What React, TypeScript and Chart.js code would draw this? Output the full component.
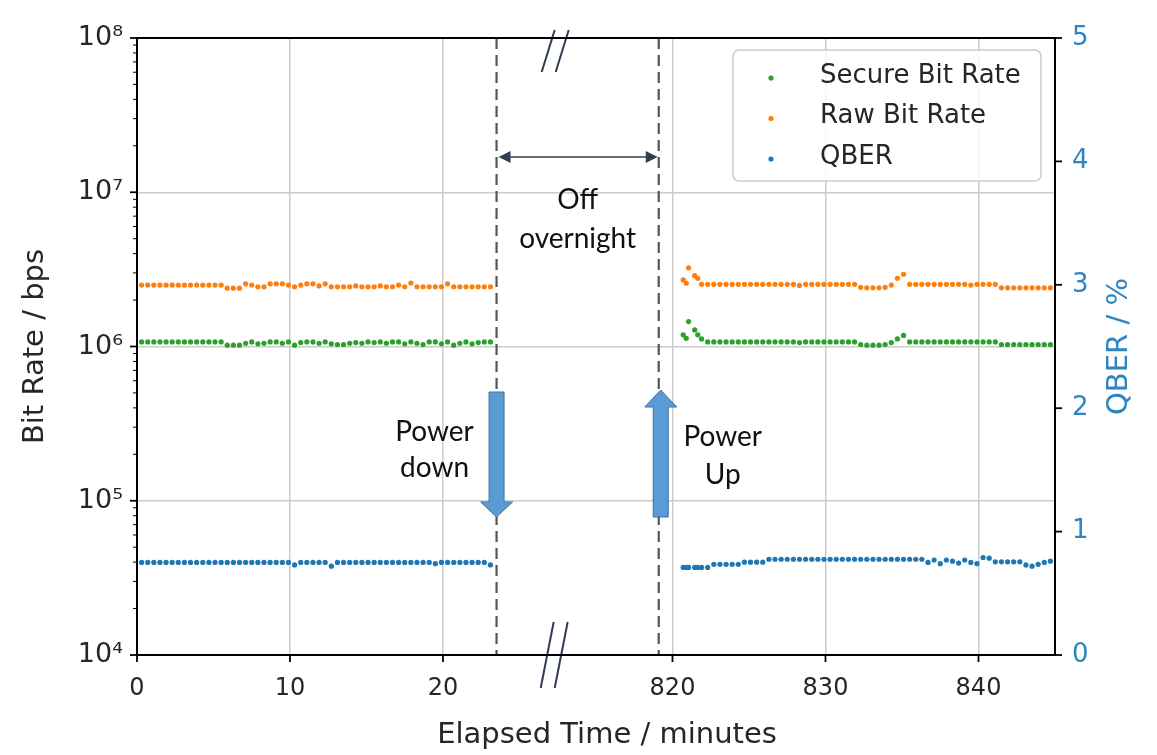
import React, { useEffect, useRef } from "react";
import { Chart, registerables } from "chart.js";

Chart.register(...registerables);

// ---- axis definition (broken time axis) ----
const BREAK_SHIFT = 785; // minutes cut out of the axis by the break
const AXIS_MIN = 0;
const AXIS_MAX = 60;
const X_TICK_POS = [0, 10, 20, 35, 45, 55];
const X_TICK_LABELS = ["0", "10", "20", "820", "830", "840"];
const Y_TICKS = [1e4, 1e5, 1e6, 1e7, 1e8];
const Y_TICK_LABELS = ["10⁴", "10⁵", "10⁶", "10⁷", "10⁸"];
const QBER_TICKS = [0, 1, 2, 3, 4, 5];
const QBER_TICK_LABELS = ["0", "1", "2", "3", "4", "5"];
const POWER_DOWN_T = 23.5;
const POWER_UP_T = 819.1;
const BREAK_MARK_POS = 27.3;

// ---- data: first session (minutes) ----
const TIME_A = [
  0.3, 0.7, 1.1, 1.5, 1.9, 2.3, 2.7, 3.1, 3.5, 3.9, 4.3, 4.7, 5.1, 5.5, 5.9, 6.3, 6.7, 7.1, 7.5, 7.9,
  8.3, 8.7, 9.1, 9.5, 9.9, 10.3, 10.7, 11.1, 11.5, 11.9, 12.3, 12.7, 13.1, 13.5, 13.9, 14.3, 14.7, 15.1, 15.5, 15.9,
  16.3, 16.7, 17.1, 17.5, 17.9, 18.3, 18.7, 19.1, 19.5, 19.9, 20.3, 20.7, 21.1, 21.5, 21.9, 22.3, 22.7, 23.1,
];
const RAW_A = [
  2.5e6, 2.5e6, 2.5e6, 2.5e6, 2.5e6, 2.5e6, 2.5e6, 2.5e6, 2.5e6, 2.5e6, 2.5e6, 2.5e6, 2.5e6, 2.5e6, 2.39e6, 2.39e6, 2.39e6, 2.55e6, 2.5e6, 2.44e6,
  2.44e6, 2.55e6, 2.55e6, 2.55e6, 2.5e6, 2.44e6, 2.5e6, 2.55e6, 2.55e6, 2.47e6, 2.55e6, 2.44e6, 2.44e6, 2.44e6, 2.44e6, 2.47e6, 2.44e6, 2.44e6, 2.44e6, 2.47e6,
  2.44e6, 2.44e6, 2.5e6, 2.44e6, 2.58e6, 2.44e6, 2.44e6, 2.44e6, 2.44e6, 2.44e6, 2.55e6, 2.44e6, 2.44e6, 2.44e6, 2.44e6, 2.44e6, 2.44e6, 2.44e6,
];
const SECURE_A = [
  1.07e6, 1.07e6, 1.07e6, 1.07e6, 1.07e6, 1.07e6, 1.07e6, 1.07e6, 1.07e6, 1.07e6, 1.07e6, 1.07e6, 1.07e6, 1.07e6, 1.02e6, 1.02e6, 1.02e6, 1.05e6, 1.07e6, 1.04e6,
  1.05e6, 1.07e6, 1.07e6, 1.05e6, 1.07e6, 1.02e6, 1.06e6, 1.07e6, 1.07e6, 1.05e6, 1.07e6, 1.04e6, 1.03e6, 1.03e6, 1.05e6, 1.06e6, 1.05e6, 1.07e6, 1.06e6, 1.07e6,
  1.05e6, 1.07e6, 1.07e6, 1.04e6, 1.07e6, 1.05e6, 1.03e6, 1.07e6, 1.07e6, 1.04e6, 1.07e6, 1.02e6, 1.05e6, 1.07e6, 1.04e6, 1.06e6, 1.07e6, 1.07e6,
];
const QBER_A = [
  0.75, 0.75, 0.75, 0.75, 0.75, 0.75, 0.75, 0.75, 0.75, 0.75, 0.75, 0.75, 0.75, 0.75, 0.75, 0.75, 0.75, 0.75, 0.75, 0.75,
  0.75, 0.75, 0.75, 0.75, 0.75, 0.73, 0.75, 0.75, 0.75, 0.75, 0.75, 0.72, 0.75, 0.75, 0.75, 0.75, 0.75, 0.75, 0.75, 0.75,
  0.75, 0.75, 0.75, 0.75, 0.75, 0.75, 0.75, 0.75, 0.74, 0.75, 0.75, 0.75, 0.75, 0.75, 0.75, 0.75, 0.75, 0.73,
];

// ---- data: second session after overnight power-off (minutes) ----
const TIME_B = [
  820.7, 820.9, 821.05, 821.45, 821.65, 821.9,
  822.3, 822.7, 823.1, 823.5, 823.9, 824.3, 824.7, 825.1, 825.5, 825.9, 826.3, 826.7, 827.1, 827.5, 827.9, 828.3, 828.7, 829.1, 829.5, 829.9,
  830.3, 830.7, 831.1, 831.5, 831.9, 832.3, 832.7, 833.1, 833.5, 833.9, 834.3, 834.7, 835.1, 835.5, 835.9, 836.3, 836.7, 837.1, 837.5, 837.9,
  838.3, 838.7, 839.1, 839.5, 839.9, 840.3, 840.7, 841.1, 841.5, 841.9, 842.3, 842.7, 843.1, 843.5, 843.9, 844.3, 844.7,
];
const RAW_B = [
  2.7e6, 2.57e6, 3.24e6, 2.88e6, 2.77e6, 2.53e6,
  2.53e6, 2.53e6, 2.53e6, 2.53e6, 2.53e6, 2.53e6, 2.53e6, 2.53e6, 2.53e6, 2.53e6, 2.53e6, 2.53e6, 2.53e6, 2.53e6, 2.53e6, 2.49e6, 2.53e6, 2.53e6, 2.53e6, 2.53e6,
  2.53e6, 2.53e6, 2.53e6, 2.53e6, 2.53e6, 2.42e6, 2.4e6, 2.4e6, 2.4e6, 2.42e6, 2.5e6, 2.77e6, 2.94e6, 2.53e6, 2.53e6, 2.53e6, 2.53e6, 2.53e6, 2.53e6, 2.53e6,
  2.53e6, 2.53e6, 2.53e6, 2.5e6, 2.53e6, 2.53e6, 2.53e6, 2.53e6, 2.4e6, 2.4e6, 2.4e6, 2.4e6, 2.4e6, 2.4e6, 2.4e6, 2.4e6, 2.4e6,
];
const SECURE_B = [
  1.19e6, 1.13e6, 1.45e6, 1.28e6, 1.19e6, 1.12e6,
  1.07e6, 1.07e6, 1.07e6, 1.07e6, 1.07e6, 1.07e6, 1.07e6, 1.07e6, 1.07e6, 1.07e6, 1.07e6, 1.07e6, 1.07e6, 1.07e6, 1.07e6, 1.06e6, 1.07e6, 1.07e6, 1.07e6, 1.07e6,
  1.07e6, 1.07e6, 1.07e6, 1.07e6, 1.07e6, 1.03e6, 1.02e6, 1.02e6, 1.02e6, 1.03e6, 1.06e6, 1.12e6, 1.18e6, 1.07e6, 1.07e6, 1.07e6, 1.07e6, 1.07e6, 1.07e6, 1.07e6,
  1.07e6, 1.07e6, 1.07e6, 1.07e6, 1.07e6, 1.07e6, 1.07e6, 1.07e6, 1.03e6, 1.03e6, 1.03e6, 1.03e6, 1.03e6, 1.03e6, 1.03e6, 1.03e6, 1.03e6,
];
const QBER_B = [
  0.71, 0.71, 0.71, 0.71, 0.71, 0.71,
  0.71, 0.735, 0.735, 0.735, 0.735, 0.735, 0.752, 0.752, 0.752, 0.752, 0.776, 0.776, 0.776, 0.776, 0.776, 0.776, 0.776, 0.776, 0.776, 0.776,
  0.776, 0.776, 0.776, 0.776, 0.776, 0.776, 0.776, 0.776, 0.776, 0.776, 0.776, 0.776, 0.776, 0.776, 0.776, 0.776, 0.75, 0.77, 0.74, 0.77,
  0.76, 0.745, 0.77, 0.75, 0.74, 0.79, 0.785, 0.755, 0.755, 0.755, 0.755, 0.755, 0.73, 0.72, 0.735, 0.75, 0.76,
];

const SERIES_NAMES = ["Secure Bit Rate", "Raw Bit Rate", "QBER"];
const SERIES_COLORS = ["#2ca02c", "#ff7f0e", "#1f77b4"];
const QBER_AXIS_COLOR = "#2e86c1";
const TEXT_COLOR = "#262626";

const toAxis = (t: number) => (t > 400 ? t - BREAK_SHIFT : t);
const toPoints = (times: number[], vals: number[]) => times.map((t, i) => ({ x: toAxis(t), y: vals[i] }));

function line(ctx: CanvasRenderingContext2D, x1: number, y1: number, x2: number, y2: number, w: number, c: string) {
  ctx.beginPath();
  ctx.strokeStyle = c;
  ctx.lineWidth = w;
  ctx.moveTo(x1, y1);
  ctx.lineTo(x2, y2);
  ctx.stroke();
}

function blockArrow(ctx: CanvasRenderingContext2D, cx: number, shaftEnd: number, headBase: number, tip: number, shaftHalf: number, headHalf: number) {
  ctx.beginPath();
  ctx.moveTo(cx - shaftHalf, shaftEnd);
  ctx.lineTo(cx - shaftHalf, headBase);
  ctx.lineTo(cx - headHalf, headBase);
  ctx.lineTo(cx, tip);
  ctx.lineTo(cx + headHalf, headBase);
  ctx.lineTo(cx + shaftHalf, headBase);
  ctx.lineTo(cx + shaftHalf, shaftEnd);
  ctx.closePath();
  ctx.fillStyle = "#5b9bd5";
  ctx.fill();
  ctx.strokeStyle = "#41719c";
  ctx.lineWidth = 1;
  ctx.stroke();
}

const decorPlugin = {
  id: "decor",
  afterDraw(chart: any) {
    const ctx: CanvasRenderingContext2D = chart.ctx;
    const { left, right, top, bottom } = chart.chartArea;
    const xs = chart.scales.x;
    const ys = chart.scales.y;
    const yq = chart.scales.y1;
    ctx.save();

    // dashed power-down / power-up lines
    const xDown = xs.getPixelForValue(toAxis(POWER_DOWN_T));
    const xUp = xs.getPixelForValue(toAxis(POWER_UP_T));
    ctx.setLineDash([11, 6]);
    line(ctx, xDown, top, xDown, bottom, 2.2, "#555555");
    line(ctx, xUp, top, xUp, bottom, 2.2, "#555555");
    ctx.setLineDash([]);

    // double-headed arrow
    const ay = top + 119;
    const navy = "#333f50";
    line(ctx, xDown + 8, ay, xUp - 8, ay, 1.5, navy);
    ctx.fillStyle = navy;
    ctx.beginPath();
    ctx.moveTo(xDown + 2, ay);
    ctx.lineTo(xDown + 14, ay - 6);
    ctx.lineTo(xDown + 14, ay + 6);
    ctx.closePath();
    ctx.fill();
    ctx.beginPath();
    ctx.moveTo(xUp - 1, ay);
    ctx.lineTo(xUp - 13, ay - 6);
    ctx.lineTo(xUp - 13, ay + 6);
    ctx.closePath();
    ctx.fill();

    // annotation text
    ctx.fillStyle = "#111111";
    ctx.font = "28px Lato, 'Open Sans', sans-serif";
    ctx.textAlign = "center";
    ctx.textBaseline = "middle";
    const midX = (xDown + xUp) / 2;
    ctx.fillText("Off", midX, top + 162);
    ctx.fillText("overnight", midX, top + 201);
    ctx.fillText("Power", xDown - 62, top + 394);
    ctx.fillText("down", xDown - 62, top + 430);
    ctx.fillText("Power", xUp + 64, top + 399);
    ctx.fillText("Up", xUp + 64, top + 437);

    // block arrows
    blockArrow(ctx, xDown, top + 354, top + 464, top + 479, 7.5, 16);
    blockArrow(ctx, xUp + 2, top + 479, top + 369, top + 352, 7.5, 16);

    // axis-break marks
    const xb = xs.getPixelForValue(BREAK_MARK_POS);
    const breakColor = "#2f3c52";
    line(ctx, xb - 13, top + 34, xb, top - 8, 2, breakColor);
    line(ctx, xb + 1, top + 34, xb + 14, top - 8, 2, breakColor);
    line(ctx, xb - 14, bottom + 33, xb - 1, bottom - 33, 2, breakColor);
    line(ctx, xb, bottom + 33, xb + 13, bottom - 33, 2, breakColor);

    // tick marks
    Y_TICKS.forEach((v) => {
      const y = ys.getPixelForValue(v);
      line(ctx, left - 7, y, left, y, 1.8, "#000");
    });
    for (let d = 0; d < Y_TICKS.length - 1; d++) {
      for (let m = 2; m <= 9; m++) {
        const y = ys.getPixelForValue(Y_TICKS[d] * m);
        line(ctx, left - 4, y, left, y, 1, "#000");
      }
    }
    QBER_TICKS.forEach((v) => {
      const y = yq.getPixelForValue(v);
      line(ctx, right, y, right + 7, y, 1.8, "#000");
    });
    X_TICK_POS.forEach((v) => {
      const x = xs.getPixelForValue(v);
      line(ctx, x, bottom, x, bottom + 7, 1.8, "#000");
    });

    // frame
    ctx.strokeStyle = "#000";
    ctx.lineWidth = 2;
    ctx.strokeRect(left, top, right - left, bottom - top);

    // axis titles
    ctx.fillStyle = TEXT_COLOR;
    ctx.font = "29px 'DejaVu Sans'";
    ctx.textAlign = "center";
    ctx.textBaseline = "middle";
    ctx.fillText("Elapsed Time / minutes", (left + right) / 2 + 11, bottom + 80);
    ctx.save();
    ctx.translate(35, (top + bottom) / 2);
    ctx.rotate(-Math.PI / 2);
    ctx.fillText("Bit Rate / bps", 0, 0);
    ctx.restore();
    ctx.save();
    ctx.fillStyle = QBER_AXIS_COLOR;
    ctx.translate(right + 64, (top + bottom) / 2);
    ctx.rotate(-Math.PI / 2);
    ctx.fillText("QBER / %", 0, 0);
    ctx.restore();

    // legend
    const lx = right - 322;
    const ly = top + 12;
    const lw = 308;
    const lh = 131;
    ctx.beginPath();
    ctx.roundRect(lx, ly, lw, lh, 6);
    ctx.fillStyle = "rgba(255,255,255,0.85)";
    ctx.fill();
    ctx.strokeStyle = "#cccccc";
    ctx.lineWidth = 1.5;
    ctx.stroke();
    ctx.font = "26px 'DejaVu Sans'";
    ctx.textAlign = "left";
    SERIES_NAMES.forEach((name, i) => {
      const cy = ly + 26 + i * 40.5;
      ctx.beginPath();
      ctx.arc(lx + 38, cy + 2, 2.6, 0, Math.PI * 2);
      ctx.fillStyle = SERIES_COLORS[i];
      ctx.fill();
      ctx.fillStyle = TEXT_COLOR;
      ctx.fillText(name, lx + 87, cy);
    });

    ctx.restore();
  },
};

export default function App() {
  const ref = useRef<HTMLCanvasElement>(null);

  useEffect(() => {
    if (!ref.current) return;
    const pointStyle = (color: string) => ({
      backgroundColor: color,
      borderColor: color,
      pointRadius: 2.6,
      pointBorderWidth: 0,
      showLine: false,
    });
    const chart = new Chart(ref.current, {
      type: "scatter",
      data: {
        datasets: [
          { label: SERIES_NAMES[0], data: [...toPoints(TIME_A, SECURE_A), ...toPoints(TIME_B, SECURE_B)], yAxisID: "y", ...pointStyle(SERIES_COLORS[0]) },
          { label: SERIES_NAMES[1], data: [...toPoints(TIME_A, RAW_A), ...toPoints(TIME_B, RAW_B)], yAxisID: "y", ...pointStyle(SERIES_COLORS[1]) },
          { label: SERIES_NAMES[2], data: [...toPoints(TIME_A, QBER_A), ...toPoints(TIME_B, QBER_B)], yAxisID: "y1", ...pointStyle(SERIES_COLORS[2]) },
        ],
      },
      options: {
        animation: false,
        responsive: false,
        layout: { padding: { top: 38, left: 0, right: 0, bottom: 0 } },
        plugins: { legend: { display: false }, tooltip: { enabled: false } },
        scales: {
          x: {
            type: "linear",
            min: AXIS_MIN,
            max: AXIS_MAX,
            afterBuildTicks: (s: any) => {
              s.ticks = X_TICK_POS.map((v) => ({ value: v }));
            },
            afterFit: (s: any) => {
              s.height = 100;
            },
            grid: { color: "#cbcbcb", lineWidth: 1.5, drawTicks: false },
            border: { display: false },
            ticks: {
              padding: 19,
              color: TEXT_COLOR,
              font: { family: "DejaVu Sans", size: 24 },
              maxRotation: 0,
              autoSkip: false,
              callback: (_v: any, i: number) => X_TICK_LABELS[i],
            },
          },
          y: {
            type: "logarithmic",
            position: "left",
            min: Y_TICKS[0],
            max: Y_TICKS[Y_TICKS.length - 1],
            afterBuildTicks: (s: any) => {
              s.ticks = Y_TICKS.map((v) => ({ value: v }));
            },
            afterFit: (s: any) => {
              s.width = 137;
            },
            grid: { color: "#cbcbcb", lineWidth: 1.5, drawTicks: false },
            border: { display: false },
            ticks: {
              padding: 14,
              color: TEXT_COLOR,
              font: { family: "DejaVu Sans", size: 27 },
              autoSkip: false,
              callback: (_v: any, i: number) => Y_TICK_LABELS[i],
            },
          },
          y1: {
            type: "linear",
            position: "right",
            min: QBER_TICKS[0],
            max: QBER_TICKS[QBER_TICKS.length - 1],
            afterBuildTicks: (s: any) => {
              s.ticks = QBER_TICKS.map((v) => ({ value: v }));
            },
            afterFit: (s: any) => {
              s.width = 102;
            },
            grid: { drawOnChartArea: false, drawTicks: false },
            border: { display: false },
            ticks: {
              padding: 17,
              color: QBER_AXIS_COLOR,
              font: { family: "DejaVu Sans", size: 26 },
              autoSkip: false,
              callback: (_v: any, i: number) => QBER_TICK_LABELS[i],
            },
          },
        },
      },
      plugins: [decorPlugin],
    } as any);
    return () => chart.destroy();
  }, []);

  return (
    <div style={{ position: "fixed", left: 0, top: 0, width: 1157, height: 755, background: "#fff" }}>
      <canvas ref={ref} width={1157} height={755} style={{ display: "block" }} />
    </div>
  );
}
